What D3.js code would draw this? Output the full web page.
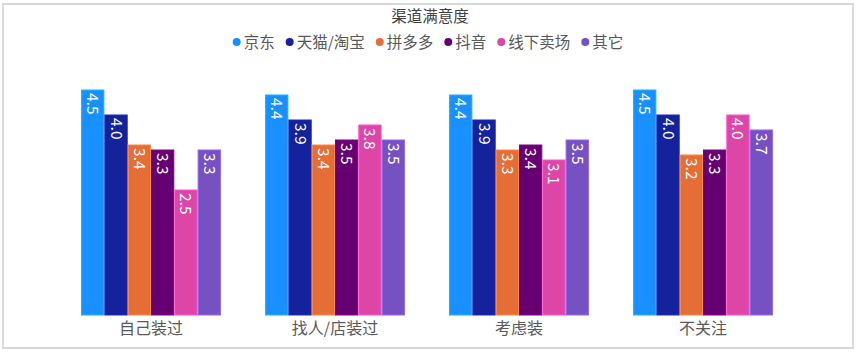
<!DOCTYPE html>
<html>
<head>
<meta charset="utf-8">
<script src="https://cdn.jsdelivr.net/npm/d3@7"></script>
<style>
  html, body { margin: 0; padding: 0; background: #fff; }
  svg { display: block; font-family: "Noto Sans CJK SC", "Noto Sans", sans-serif; }
</style>
</head>
<body>
<div id="chart"></div>
<script>
// Daten
const categories = ["自己装过", "找人/店装过", "考虑装", "不关注"];
const seriesNames = ["京东", "天猫/淘宝", "拼多多", "抖音", "线下卖场", "其它"];
const seriesColors = ["#1890ff", "#14229c", "#e46e36", "#660072", "#dd45a6", "#7651c2"];
const values = [
  [4.5, 4.0, 3.4, 3.3, 2.5, 3.3],
  [4.4, 3.9, 3.4, 3.5, 3.8, 3.5],
  [4.4, 3.9, 3.3, 3.4, 3.1, 3.5],
  [4.5, 4.0, 3.2, 3.3, 4.0, 3.7]
];
const chartTitle = "渠道满意度";

const W = 865, H = 353;
const svg = d3.select("#chart").append("svg").attr("width", W).attr("height", H);

// Rahmen
svg.append("rect")
  .attr("x", 3).attr("y", 4).attr("width", 850).attr("height", 344)
  .attr("fill", "none").attr("stroke", "#d9d9d9").attr("stroke-width", 2);

// Skalen
const x0 = d3.scaleBand().domain(categories).range([59, 795]).paddingInner(0.24).paddingOuter(0.12);
const x1 = d3.scaleBand().domain(seriesNames).range([0, x0.bandwidth()]).padding(0);
const y = d3.scaleLinear().domain([0, 5]).range([315, 65]);
const color = d3.scaleOrdinal().domain(seriesNames).range(seriesColors);

// Titel
svg.append("text")
  .attr("x", 430).attr("y", 22)
  .attr("text-anchor", "middle")
  .style("font-size", "15.5px").style("fill", "#404040")
  .text(chartTitle);

// Legende
const legend = svg.append("g");
const GAP = 11;
let lx = 0;
seriesNames.forEach(name => {
  const item = legend.append("g").attr("transform", `translate(${lx},0)`);
  item.append("circle").attr("cx", 4).attr("cy", 0).attr("r", 4).attr("fill", color(name));
  const t = item.append("text").attr("x", 11).attr("y", 5.5)
    .style("font-size", "15.5px").style("fill", "#595959").text(name);
  lx += 11 + t.node().getComputedTextLength() + GAP;
});
legend.attr("transform", `translate(${428 - (lx - GAP) / 2},42)`);

// Balken
const groups = svg.selectAll("g.cat")
  .data(categories)
  .join("g")
  .attr("class", "cat")
  .attr("transform", d => `translate(${x0(d)},0)`);

groups.each(function(cat, ci) {
  const g = d3.select(this);
  const rows = seriesNames.map((s, si) => ({ s, v: values[ci][si] }));

  g.selectAll("rect")
    .data(rows)
    .join("rect")
    .attr("x", d => x1(d.s) + 0.5)
    .attr("y", d => y(d.v))
    .attr("width", x1.bandwidth() - 1)
    .attr("height", d => y(0) - y(d.v))
    .attr("fill", d => color(d.s))
    .attr("stroke", d => d3.color(color(d.s)).brighter(0.6))
    .attr("stroke-width", 1);

  // Werte-Labels, um 90° gedreht
  g.selectAll("text.val")
    .data(rows)
    .join("text")
    .attr("class", "val")
    .attr("transform", d => `translate(${x1(d.s) + x1.bandwidth() / 2 - 5.5},${y(d.v) + 3}) rotate(90)`)
    .style("font-size", "15.5px")
    .style("fill", "#fff")
    .text(d => d.v.toFixed(1));
});

// Kategorie-Achse
svg.selectAll("text.cat")
  .data(categories)
  .join("text")
  .attr("class", "cat")
  .attr("x", d => x0(d) + x0.bandwidth() / 2)
  .attr("y", 334)
  .attr("text-anchor", "middle")
  .style("font-size", "16px").style("fill", "#595959")
  .text(d => d);
</script>
</body>
</html>
